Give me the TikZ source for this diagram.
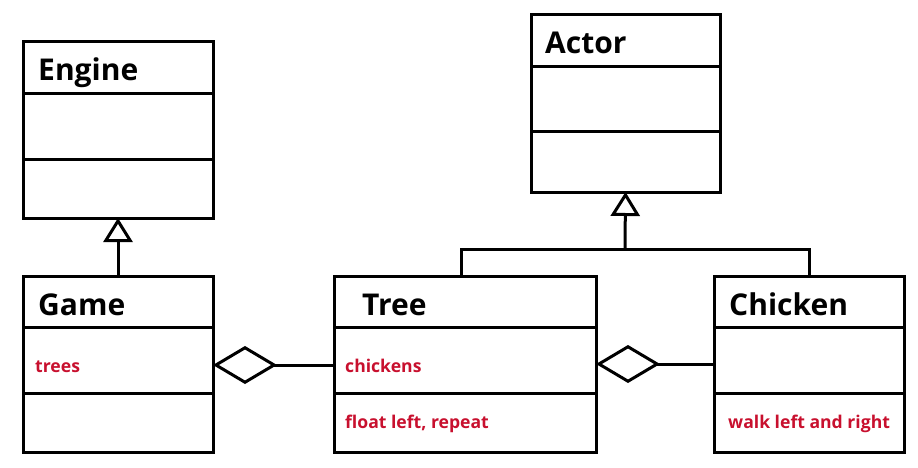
\documentclass[tikz,border=0pt]{standalone}
\usepackage{fontspec}
\setmainfont{Open Sans}
\usetikzlibrary{positioning}
\usetikzlibrary{arrows.meta}
\definecolor{cr}{RGB}{200, 16, 46}

\begin{document}
\begin{tikzpicture}[
  part/.style={rectangle, draw=black, line width=3pt, minimum width=190pt, inner sep=0pt, outer sep=0pt},
  title/.style={anchor=base west, inner sep=0pt, font=\fontsize{30pt}{30pt}\selectfont\bfseries},
  member/.style={anchor=base west, inner sep=0pt, text=cr, font=\fontsize{17.6pt}{17.6pt}\selectfont\bfseries},
  link/.style={line width=3pt, color=black},
  inherit/.style={link, -{Triangle[open, length=24pt, width=29pt, line width=3pt]}},
  aggr/.style={link, -{Diamond[open, length=64pt, width=38pt, line width=3pt]}}]
\useasboundingbox (0pt, 0pt) rectangle (918pt, -468pt);
% Engine
\node (engine) [part, anchor=north west, minimum height=52pt] at (23pt, -42pt) {};
\node (engine-a) [part, minimum height=65pt, below=0pt of engine] {};
\node (engine-m) [part, minimum height=59pt, below=0pt of engine-a] {};
\node (engine-t) [title] at (38pt, -81pt) {Engine};
% Actor
\node (actor) [part, anchor=north west, minimum height=52pt, minimum width=189pt] at (531pt, -15pt) {};
\node (actor-a) [part, minimum height=65pt, minimum width=189pt, below=0pt of actor] {};
\node (actor-m) [part, minimum height=60pt, minimum width=189pt, below=0pt of actor-a] {};
\node (actor-t) [title] at (545pt, -54pt) {Actor};
% Game
\node (game) [part, anchor=north west, minimum height=51pt] at (23pt, -276pt) {};
\node (game-a) [part, minimum height=66pt, below=0pt of game] {};
\node (game-m) [part, minimum height=59pt, below=0pt of game-a] {};
\node (game-t) [title] at (38pt, -315pt) {Game};
\node (game-x) [member] at (35pt, -372pt) {trees};
% Tree
\node (tree) [part, anchor=north west, minimum height=51pt, minimum width=262pt] at (334pt, -276pt) {};
\node (tree-a) [part, minimum height=66pt, minimum width=262pt, below=0pt of tree] {};
\node (tree-m) [part, minimum height=59pt, minimum width=262pt, below=0pt of tree-a] {};
\node (tree-t) [title] at (362pt, -315pt) {Tree};
\node (tree-x) [member] at (345pt, -372pt) {chickens};
\node (tree-y) [member] at (345pt, -428pt) {float left, repeat};
% Chicken
\node (chicken) [part, anchor=north west, minimum height=51pt, minimum width=190pt] at (714pt, -276pt) {};
\node (chicken-a) [part, minimum height=66pt, below=0pt of chicken] {};
\node (chicken-m) [part, minimum height=59pt, below=0pt of chicken-a] {};
\node (chicken-t) [title] at (729pt, -315pt) {Chicken};
\node (chicken-y) [member] at (728pt, -428pt) {walk left and right};
% links
\coordinate (join) at (625pt, -249pt);
\draw [inherit] (game) to (engine-m);
\draw [link] ([xshift=-4pt]tree.north) |- (join) -| (chicken.north);
\draw [inherit] (join) to (actor-m.south);
\draw [aggr] ([yshift=-5pt]tree-a.west) to ([yshift=-5pt]game-a.east);
\draw [aggr] ([yshift=-4pt]chicken-a.west) to ([yshift=-4pt]tree-a.east);
\end{tikzpicture}
\end{document}
